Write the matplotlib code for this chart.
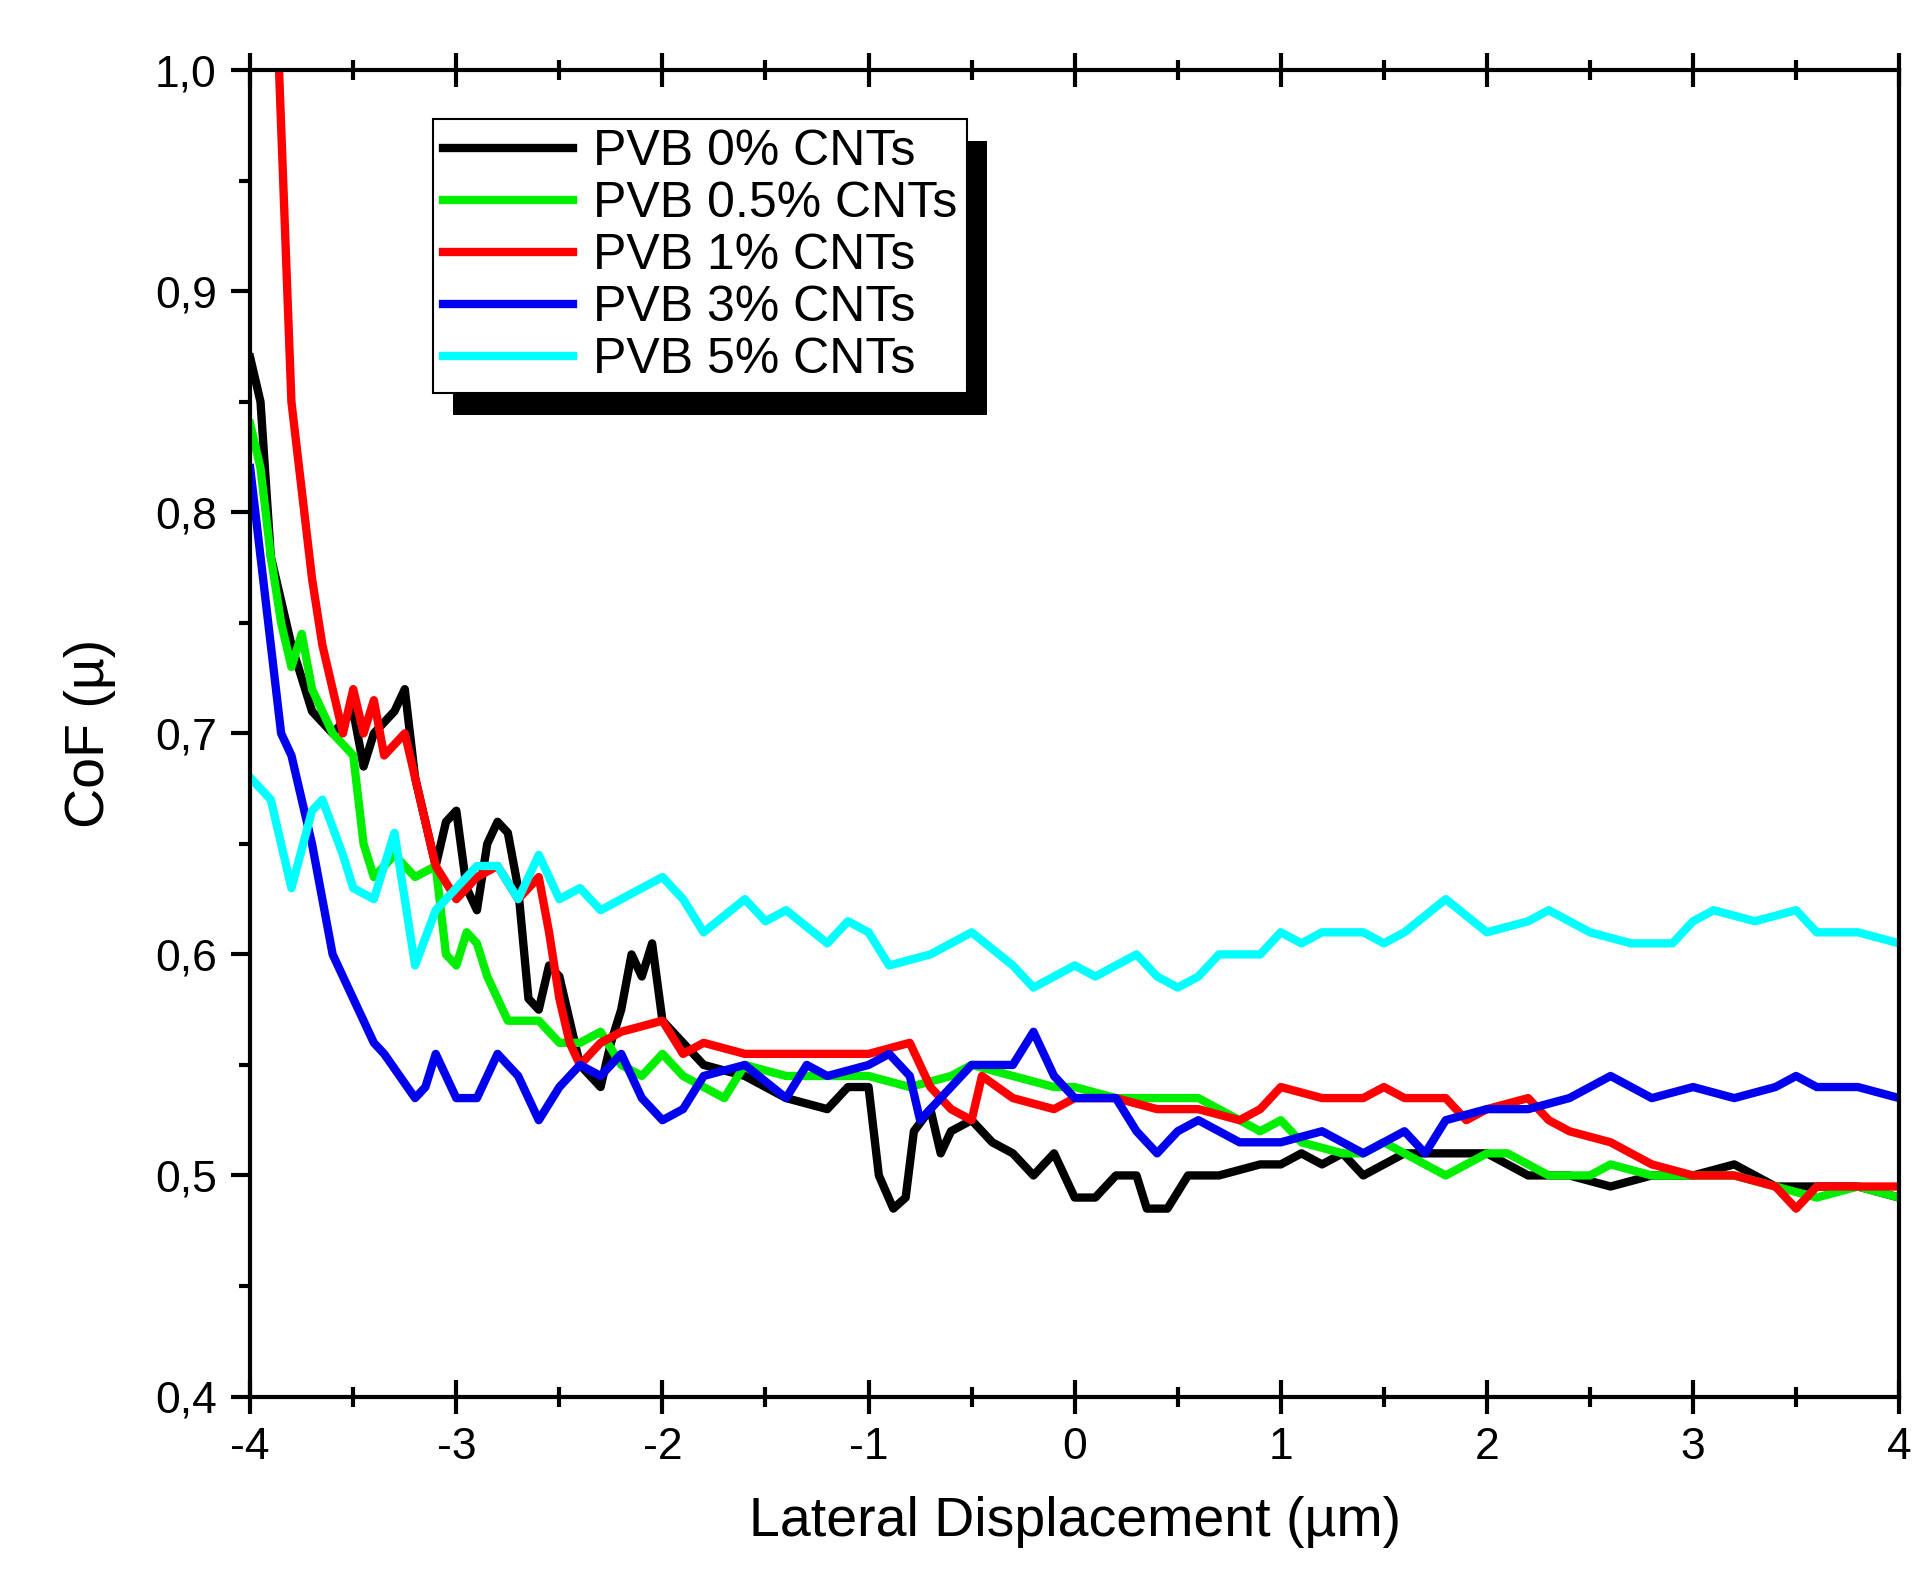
import matplotlib
matplotlib.use("Agg")
import matplotlib.pyplot as plt
from matplotlib.ticker import MultipleLocator, FuncFormatter
from matplotlib.patches import Rectangle

x_black = [-4,-3.95,-3.9,-3.8,-3.7,-3.6,-3.5,-3.45,-3.4,-3.3,-3.25,-3.2,-3.1,-3.05,-3.0,-2.95,-2.9,-2.85,-2.8,-2.75,-2.7,-2.65,-2.6,-2.55,-2.5,-2.45,-2.4,-2.35,-2.3,-2.25,-2.2,-2.15,-2.1,-2.05,-2.0,-1.9,-1.8,-1.6,-1.4,-1.2,-1.1,-1.0,-0.95,-0.88,-0.82,-0.78,-0.7,-0.65,-0.6,-0.5,-0.4,-0.3,-0.2,-0.1,0,0.1,0.2,0.3,0.35,0.45,0.55,0.7,0.9,1.0,1.1,1.2,1.3,1.4,1.5,1.6,1.8,2.0,2.2,2.4,2.6,2.8,3.0,3.2,3.4,3.6,3.8,4.0]
y_black = [0.87,0.85,0.78,0.74,0.71,0.70,0.71,0.685,0.70,0.71,0.72,0.68,0.64,0.66,0.665,0.63,0.62,0.65,0.66,0.655,0.63,0.58,0.575,0.595,0.59,0.57,0.55,0.545,0.54,0.56,0.575,0.60,0.59,0.605,0.57,0.56,0.55,0.545,0.535,0.53,0.54,0.54,0.50,0.485,0.49,0.52,0.53,0.51,0.52,0.525,0.515,0.51,0.50,0.51,0.49,0.49,0.50,0.50,0.485,0.485,0.50,0.50,0.505,0.505,0.51,0.505,0.51,0.50,0.505,0.51,0.51,0.51,0.50,0.50,0.495,0.50,0.50,0.505,0.495,0.495,0.495,0.49]

x_green = [-4,-3.95,-3.9,-3.85,-3.8,-3.75,-3.7,-3.6,-3.5,-3.45,-3.4,-3.3,-3.2,-3.1,-3.05,-3.0,-2.95,-2.9,-2.85,-2.8,-2.75,-2.6,-2.5,-2.4,-2.3,-2.2,-2.1,-2.0,-1.9,-1.8,-1.7,-1.6,-1.4,-1.2,-1.0,-0.8,-0.6,-0.5,-0.3,-0.1,0,0.2,0.4,0.6,0.7,0.8,0.9,1.0,1.1,1.3,1.4,1.5,1.6,1.7,1.8,2.0,2.1,2.3,2.5,2.6,2.8,3.0,3.2,3.4,3.6,3.8,4.0]
y_green = [0.84,0.82,0.78,0.75,0.73,0.745,0.72,0.70,0.69,0.65,0.635,0.645,0.635,0.64,0.60,0.595,0.61,0.605,0.59,0.58,0.57,0.57,0.56,0.56,0.565,0.55,0.545,0.555,0.545,0.54,0.535,0.55,0.545,0.545,0.545,0.54,0.545,0.55,0.545,0.54,0.54,0.535,0.535,0.535,0.53,0.525,0.52,0.525,0.515,0.51,0.51,0.515,0.51,0.505,0.50,0.51,0.51,0.50,0.50,0.505,0.50,0.50,0.50,0.495,0.49,0.495,0.49]

x_red = [-3.86,-3.8,-3.7,-3.65,-3.6,-3.55,-3.5,-3.45,-3.4,-3.35,-3.3,-3.25,-3.2,-3.1,-3.0,-2.9,-2.8,-2.7,-2.6,-2.55,-2.5,-2.45,-2.4,-2.3,-2.2,-2.0,-1.9,-1.8,-1.6,-1.4,-1.2,-1.0,-0.8,-0.7,-0.6,-0.5,-0.45,-0.3,-0.1,0,0.2,0.4,0.6,0.8,0.9,1.0,1.2,1.4,1.5,1.6,1.8,1.9,2.0,2.2,2.3,2.4,2.6,2.8,3.0,3.2,3.4,3.5,3.6,3.8,4.0]
y_red = [1.0,0.85,0.77,0.74,0.72,0.70,0.72,0.70,0.715,0.69,0.695,0.70,0.68,0.64,0.625,0.635,0.64,0.625,0.635,0.61,0.58,0.56,0.55,0.56,0.565,0.57,0.555,0.56,0.555,0.555,0.555,0.555,0.56,0.54,0.53,0.525,0.545,0.535,0.53,0.535,0.535,0.53,0.53,0.525,0.53,0.54,0.535,0.535,0.54,0.535,0.535,0.525,0.53,0.535,0.525,0.52,0.515,0.505,0.50,0.50,0.495,0.485,0.495,0.495,0.495]

x_blue = [-4,-3.95,-3.9,-3.85,-3.8,-3.7,-3.6,-3.5,-3.4,-3.35,-3.2,-3.15,-3.1,-3.0,-2.9,-2.8,-2.7,-2.6,-2.5,-2.4,-2.3,-2.2,-2.1,-2.0,-1.9,-1.8,-1.6,-1.4,-1.3,-1.2,-1.0,-0.9,-0.8,-0.75,-0.6,-0.5,-0.3,-0.2,-0.1,0,0.2,0.3,0.4,0.5,0.6,0.8,1.0,1.2,1.4,1.6,1.7,1.8,2.0,2.2,2.4,2.6,2.8,3.0,3.2,3.4,3.5,3.6,3.8,4.0]
y_blue = [0.82,0.78,0.74,0.70,0.69,0.65,0.60,0.58,0.56,0.555,0.535,0.54,0.555,0.535,0.535,0.555,0.545,0.525,0.54,0.55,0.545,0.555,0.535,0.525,0.53,0.545,0.55,0.535,0.55,0.545,0.55,0.555,0.545,0.525,0.54,0.55,0.55,0.565,0.545,0.535,0.535,0.52,0.51,0.52,0.525,0.515,0.515,0.52,0.51,0.52,0.51,0.525,0.53,0.53,0.535,0.545,0.535,0.54,0.535,0.54,0.545,0.54,0.54,0.535]

x_cyan = [-4,-3.9,-3.8,-3.7,-3.65,-3.55,-3.5,-3.4,-3.3,-3.2,-3.1,-3.0,-2.9,-2.8,-2.7,-2.6,-2.5,-2.4,-2.3,-2.2,-2.0,-1.9,-1.8,-1.6,-1.5,-1.4,-1.2,-1.1,-1.0,-0.9,-0.7,-0.5,-0.3,-0.2,-0.1,0,0.1,0.2,0.3,0.4,0.5,0.6,0.7,0.9,1.0,1.1,1.2,1.4,1.5,1.6,1.8,2.0,2.2,2.3,2.5,2.7,2.9,3.0,3.1,3.3,3.5,3.6,3.8,4.0]
y_cyan = [0.68,0.67,0.63,0.665,0.67,0.645,0.63,0.625,0.655,0.595,0.62,0.63,0.64,0.64,0.625,0.645,0.625,0.63,0.62,0.625,0.635,0.625,0.61,0.625,0.615,0.62,0.605,0.615,0.61,0.595,0.60,0.61,0.595,0.585,0.59,0.595,0.59,0.595,0.60,0.59,0.585,0.59,0.60,0.60,0.61,0.605,0.61,0.61,0.605,0.61,0.625,0.61,0.615,0.62,0.61,0.605,0.605,0.615,0.62,0.615,0.62,0.61,0.61,0.605]

labels = ["PVB 0% CNTs","PVB 0.5% CNTs","PVB 1% CNTs","PVB 3% CNTs","PVB 5% CNTs"]
colors = ["#000000","#00ee00","#ff0000","#0000ee","#00ffff"]

plt.rcParams["font.family"] = "Liberation Sans"
fig = plt.figure(figsize=(19.32,15.96), dpi=100)
ax = fig.add_axes([0.1295,0.125,0.8535,0.831])
series = [(x_black,y_black),(x_green,y_green),(x_red,y_red),(x_blue,y_blue),(x_cyan,y_cyan)]
for (xs,ys),lab,c in zip(series,labels,colors):
    ax.plot(xs,ys,color=c,lw=6,label=lab,solid_joinstyle="round")
ax.set_xlim(-4,4); ax.set_ylim(0.4,1.0)
ax.xaxis.set_major_locator(MultipleLocator(1)); ax.xaxis.set_minor_locator(MultipleLocator(0.5))
ax.yaxis.set_major_locator(MultipleLocator(0.1)); ax.yaxis.set_minor_locator(MultipleLocator(0.05))
ax.yaxis.set_major_formatter(FuncFormatter(lambda v,p: f"{v:.1f}".replace(".",",")))
ax.xaxis.set_major_formatter(FuncFormatter(lambda v,p: f"{v:.0f}"))
ax.tick_params(which="both", direction="out", width=3, labelsize=32, top=True, right=False)
ax.tick_params(which="major", length=14, pad=10)
ax.tick_params(which="minor", length=8)
ax.tick_params(axis="x", which="both", top=True, direction="inout")
ax.tick_params(axis="x", which="major", length=24)
ax.tick_params(axis="x", which="minor", length=14)
for s in ax.spines.values(): s.set_linewidth(3)
ax.set_xlabel("Lateral Displacement (µm)", fontsize=40, labelpad=20)
ax.set_ylabel("CoF (µ)", fontsize=40, labelpad=28)
leg = ax.legend(loc="upper left", bbox_to_anchor=(0.111,0.963), fontsize=36, frameon=True,
                fancybox=False, edgecolor="black", facecolor="white", framealpha=1,
                handlelength=2.6, borderpad=0.2, labelspacing=0.12, handletextpad=0.4,
                borderaxespad=0)
leg.get_frame().set_linewidth(1.5)
for h in leg.get_lines(): h.set_linewidth(6)
leg.set_zorder(10)
fig.canvas.draw()
bb = leg.get_window_extent().transformed(ax.transAxes.inverted())
ax.add_patch(Rectangle((bb.x0+0.012, bb.y0-0.016), bb.width, bb.height, transform=ax.transAxes,
                       facecolor="black", edgecolor="none", zorder=9, clip_on=False))
fig.savefig("out.png", dpi=100)
